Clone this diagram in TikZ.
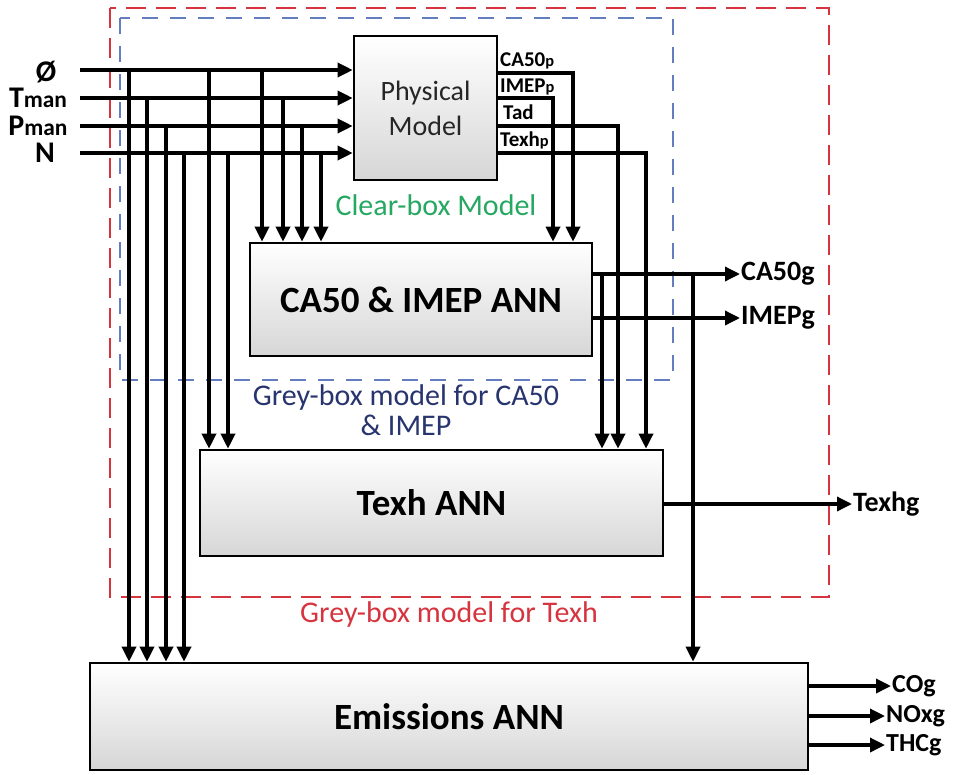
\documentclass[tikz,border=0pt]{standalone}
\usepackage{fontspec}
\setmainfont{Carlito}
\usetikzlibrary{arrows.meta}

\definecolor{clrgreen}{RGB}{38,168,98}
\definecolor{clrnavy}{RGB}{40,52,110}
\definecolor{clrred}{RGB}{214,52,62}
\definecolor{clrblue}{RGB}{100,125,190}

\newcommand{\sub}[1]{{\fontsize{0.78em}{1em}\selectfont #1}}

\begin{document}
\begin{tikzpicture}[x=1pt, y=-1pt,
    >={Triangle[length=15pt,width=14pt]},
    wire/.style={line width=3.4pt},
    block/.style={draw, line width=2.6pt, top color=white, bottom color=black!16, inner sep=0pt},
    annlabel/.style={font=\bfseries\fontsize{37}{40}\selectfont},
    sigin/.style={font=\bfseries\fontsize{30}{32}\selectfont, inner sep=0pt},
    sigout/.style={font=\bfseries\fontsize{28}{30}\selectfont, anchor=west, inner sep=1pt},
    sigemis/.style={font=\bfseries\fontsize{26}{28}\selectfont, anchor=west, inner sep=1pt},
    sigphys/.style={font=\bfseries\fontsize{21}{22}\selectfont, anchor=base west, inner sep=0pt},
    boxname/.style={font=\fontsize{30}{30}\selectfont, align=center}]
    \useasboundingbox (0,0) rectangle (960,774);
%
    \draw[clrred, line width=2.2pt, dash pattern=on 20pt off 10pt] (110,8) rectangle (829,597);
    \draw[clrblue, line width=2.2pt, dash pattern=on 16pt off 12pt] (120,18) rectangle (673,380);
    \node[boxname, text=clrgreen] (clearbox) at (436,205) {Clear-box Model};
    \node[boxname, text=clrnavy] (greyca) at (406,410) {Grey-box model for CA50\\\& IMEP};
    \node[boxname, text=clrred] (greytexh) at (449,614) {Grey-box model for Texh};
%
    \node[block, minimum width=143pt, minimum height=144pt] (phys) at (425.5,108) {};
    \node[boxname, text=black!85, font=\fontsize{28}{35}\selectfont] at (phys) {Physical\\Model};
    \node[block, annlabel, minimum width=342pt, minimum height=113pt] (ann1) at (421,299.5) {CA50 \& IMEP ANN};
    \node[block, annlabel, minimum width=463pt, minimum height=106pt] (texh) at (431.5,503) {Texh ANN};
    \node[block, annlabel, minimum width=718pt, minimum height=107pt] (emis) at (449,716.5) {Emissions ANN};
%
    \node[sigin] (in1) at (46,72) {Ø};
    \node[sigin] (in2) at (38,98) {T\sub{man}};
    \node[sigin] (in3) at (38,126) {P\sub{man}};
    \node[sigin] (in4) at (45,153) {N};
    \coordinate (s) at (80,0);
    \coordinate (r1) at (0,70);
    \draw[wire,->] (r1 -| s) -- (r1 -| phys.west);
    \draw[wire,->] (in2 -| s) -- (in2 -| phys.west);
    \draw[wire,->] (in3 -| s) -- (in3 -| phys.west);
    \draw[wire,->] (in4 -| s) -- (in4 -| phys.west);
%
    % inputs to Emissions ANN
    \coordinate (e1) at (129,0);
    \coordinate (e2) at (147,0);
    \coordinate (e3) at (166,0);
    \coordinate (e4) at (184,0);
    \draw[wire,->] (r1 -| e1) -- (e1 |- emis.north);
    \draw[wire,->] (in2 -| e2) -- (e2 |- emis.north);
    \draw[wire,->] (in3 -| e3) -- (e3 |- emis.north);
    \draw[wire,->] (in4 -| e4) -- (e4 |- emis.north);
    % inputs to Texh ANN
    \coordinate (t1) at (209,0);
    \coordinate (t2) at (228,0);
    \draw[wire,->] (r1 -| t1) -- (t1 |- texh.north);
    \draw[wire,->] (in4 -| t2) -- (t2 |- texh.north);
    % inputs to CA50 & IMEP ANN
    \coordinate (a1) at (262,0);
    \coordinate (a2) at (283,0);
    \coordinate (a3) at (302,0);
    \coordinate (a4) at (321,0);
    \draw[wire,->] (r1 -| a1) -- (a1 |- ann1.north);
    \draw[wire,->] (in2 -| a2) -- (a2 |- ann1.north);
    \draw[wire,->] (in3 -| a3) -- (a3 |- ann1.north);
    \draw[wire,->] (in4 -| a4) -- (a4 |- ann1.north);
%
    % physical model outputs
    \coordinate (p1) at (573,73);
    \coordinate (p2) at (553,98);
    \coordinate (p3) at (618,126);
    \coordinate (p4) at (646,153);
    \node[sigphys] (ca50p) at (500,66) {CA50\sub{p}};
    \node[sigphys] (imepp) at (500,92) {IMEP\sub{p}};
    \node[sigphys] (tad) at (503,119) {Tad};
    \node[sigphys] (texhp) at (500,146) {Texh\sub{p}};
    \draw[wire,->] (phys.east |- p1) -| (p1 |- ann1.north);
    \draw[wire,->] (phys.east |- p2) -| (p2 |- ann1.north);
    \draw[wire,->] (phys.east |- p3) -| (p3 |- texh.north);
    \draw[wire,->] (phys.east |- p4) -| (p4 |- texh.north);
%
    % ANN outputs
    \node[sigout] (ca50g) at (740,274) {CA50g};
    \node[sigout] (imepg) at (740,318) {IMEPg};
    \draw[wire,->] (ann1.east |- ca50g) -- (ca50g.west);
    \draw[wire,->] (ann1.east |- imepg) -- (imepg.west);
    \coordinate (g1) at (602,274);
    \coordinate (g2) at (693,274);
    \draw[wire,->] (g1) -- (g1 |- texh.north);
    \draw[wire,->] (g2) -- (g2 |- emis.north);
%
    \node[sigout] (texhg) at (852,504) {Texhg};
    \draw[wire,->] (texh.east |- texhg) -- (texhg.west);
%
    \node[sigemis] (cog) at (891,686) {COg};
    \node[sigemis] (noxg) at (885,716) {NOxg};
    \node[sigemis] (thcg) at (885,745) {THCg};
    \draw[wire,->] (emis.east |- cog) -- (cog.west);
    \draw[wire,->] (emis.east |- noxg) -- (noxg.west);
    \draw[wire,->] (emis.east |- thcg) -- (thcg.west);
  \end{tikzpicture}
\end{document}
